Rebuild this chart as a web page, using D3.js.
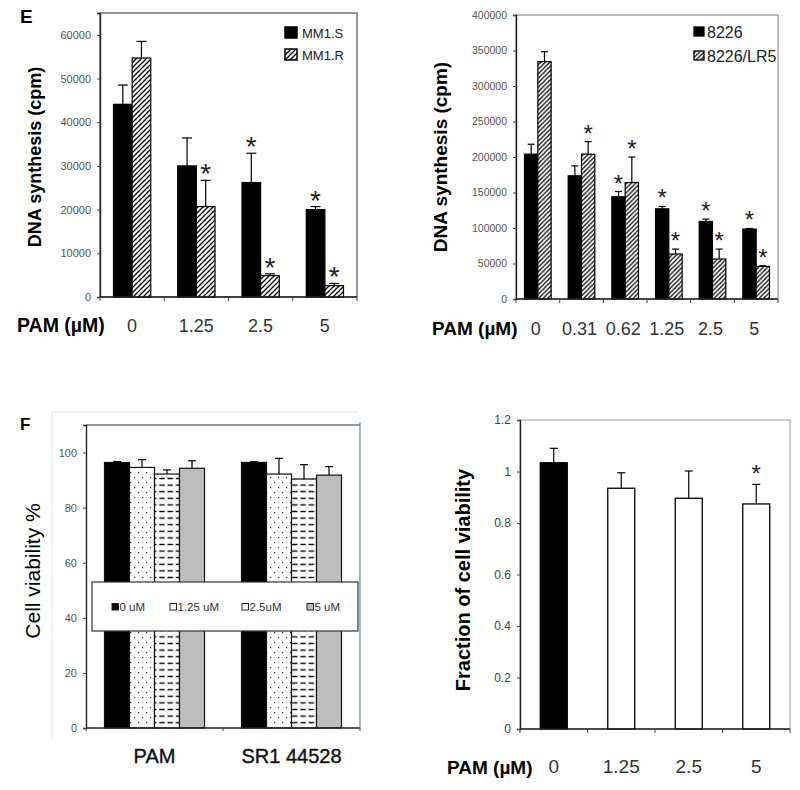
<!DOCTYPE html>
<html><head><meta charset="utf-8">
<script src="https://cdn.jsdelivr.net/npm/d3@7"></script>
<style>body{margin:0;background:#fff}</style>
</head><body>
<script>
// ---------- DATA ----------
// Panel E (left)
const catsE1 = ["0", "1.25", "2.5", "5"];
const seriesE1 = ["MM1.S", "MM1.R"];
const mm1sVals = [44100, 30000, 26200, 20000];
const mm1sSD   = [4400, 6400, 6700, 700];
const mm1sStar = [false, false, true, true];
const mm1rVals = [54700, 20700, 4900, 2600];
const mm1rSD   = [3800, 6000, 400, 500];
const mm1rStar = [false, true, true, true];
const ticksE1 = [0, 10000, 20000, 30000, 40000, 50000, 60000];

// Panel E (right)
const catsE2 = ["0", "0.31", "0.62", "1.25", "2.5", "5"];
const seriesE2 = ["8226", "8226/LR5"];
const r8226Vals = [204000, 173500, 144000, 127000, 109200, 98500];
const r8226SD   = [14000, 14000, 7400, 3300, 3300, 800];
const r8226Star = [false, false, true, true, true, true];
const lr5Vals = [334300, 204000, 164000, 63300, 56300, 45900];
const lr5SD   = [14000, 17700, 36000, 7000, 14000, 900];
const lr5Star = [false, true, true, true, true, true];
const ticksE2 = [0, 50000, 100000, 150000, 200000, 250000, 300000, 350000, 400000];

// Panel F (left)
const groupsF1 = ["PAM", "SR1 44528"];
const seriesF1 = ["0 uM", "1.25 uM", "2.5uM", "5 uM"];
const pamVals = [96.4, 94.6, 92.2, 94.3];
const pamSD   = [0.3, 2.8, 1.5, 2.7];
const srVals  = [96.4, 92.2, 90.4, 91.8];
const srSD    = [0.3, 5.7, 5.2, 3.1];
const ticksF1 = [0, 20, 40, 60, 80, 100];

// Panel F (right)
const catsF2 = ["0", "1.25", "2.5", "5"];
const fracVals = [1.034, 0.935, 0.896, 0.874];
const fracSD   = [0.056, 0.060, 0.106, 0.076];
const fracStar = [false, false, false, true];
const ticksF2 = [0, 0.2, 0.4, 0.6, 0.8, 1, 1.2];

// ---------- SETUP ----------
const svg = d3.select("body").append("svg").attr("width", 800).attr("height", 790)
  .style("font-family", "Arial, 'Liberation Sans', sans-serif");
const defs = svg.append("defs");

function hatch(id, s, w) {
  const p = defs.append("pattern").attr("id", id).attr("patternUnits", "userSpaceOnUse")
    .attr("width", s).attr("height", s);
  p.append("rect").attr("width", s).attr("height", s).attr("fill", "#fff");
  p.append("path").attr("d", `M${-s/4},${s/4} l${s/2},${-s/2} M0,${s} l${s},${-s} M${s*3/4},${s*5/4} l${s/2},${-s/2}`)
    .attr("stroke", "#000").attr("stroke-width", w);
}
hatch("hatch1", 5, 1.3);
hatch("hatch2", 4.5, 1.2);
{
  const p = defs.append("pattern").attr("id", "dots").attr("patternUnits", "userSpaceOnUse").attr("width", 8).attr("height", 10);
  p.append("rect").attr("width", 8).attr("height", 10).attr("fill", "#fff");
  p.append("rect").attr("x", 2).attr("y", 2).attr("width", 1.2).attr("height", 1.2).attr("fill", "#333");
  p.append("rect").attr("x", 6).attr("y", 7).attr("width", 1.2).attr("height", 1.2).attr("fill", "#333");
  const q = defs.append("pattern").attr("id", "dash").attr("patternUnits", "userSpaceOnUse").attr("width", 8.3).attr("height", 6.6);
  q.append("rect").attr("width", 8.3).attr("height", 6.6).attr("fill", "#fff");
  q.append("line").attr("x1", 1.5).attr("x2", 7).attr("y1", 3.3).attr("y2", 3.3).attr("stroke", "#000").attr("stroke-width", 1.4);
}

function yAxis(g, y, L, ticks, fmt, fs, color) {
  const ax = g.append("g").attr("transform", `translate(${L},0)`)
    .call(d3.axisLeft(y).tickValues(ticks).tickFormat(fmt).tickSize(3).tickPadding(6));
  ax.select(".domain").attr("stroke", "#222").attr("stroke-width", 1.4);
  ax.selectAll(".tick line").attr("stroke", "#444");
  ax.selectAll(".tick text").attr("font-size", fs).attr("fill", color).attr("font-family", "Arial, 'Liberation Sans', sans-serif");
  return ax;
}
function bandTicks(g, x, B, len) {
  const n = x.domain().length;
  const [a, b] = x.range();
  const pts = d3.range(n + 1).map(i => a + (b - a) * i / n);
  g.append("line").attr("x1", a).attr("x2", b).attr("y1", B).attr("y2", B).attr("stroke", "#222").attr("stroke-width", 1.5);
  g.selectAll(null).data(pts).join("line").attr("x1", d => d).attr("x2", d => d)
    .attr("y1", B).attr("y2", B + len).attr("stroke", "#444").attr("stroke-width", 1);
}
function errBars(g, data, y, capW, starSize, starOff) {
  g.selectAll(null).data(data).join("line")
    .attr("x1", d => d.cx).attr("x2", d => d.cx).attr("y1", d => y(d.v)).attr("y2", d => y(d.v + d.e))
    .attr("stroke", "#000").attr("stroke-width", 1.2);
  g.selectAll(null).data(data).join("line")
    .attr("x1", d => d.cx - capW / 2).attr("x2", d => d.cx + capW / 2).attr("y1", d => y(d.v + d.e)).attr("y2", d => y(d.v + d.e))
    .attr("stroke", "#000").attr("stroke-width", 1.2);
  g.selectAll(null).data(data.filter(d => d.star)).join("text")
    .attr("x", d => d.cx).attr("y", d => y(d.v + d.e) + starOff).attr("text-anchor", "middle")
    .attr("font-size", starSize).attr("fill", "#222").text("*");
}
function rotLabel(text, cx, cy, fs, weight) {
  svg.append("text").attr("transform", `translate(${cx},${cy}) rotate(-90)`).attr("text-anchor", "middle")
    .attr("dominant-baseline", "central").attr("font-size", fs).attr("font-weight", weight).attr("fill", "#000").text(text);
}

// ---------- PANEL E LEFT ----------
(function () {
  const L = 100, R = 357, T = 13, B = 297;
  const x = d3.scaleBand().domain(catsE1).range([L, R]).paddingInner(0.42).paddingOuter(0.21);
  const xs = d3.scaleBand().domain(seriesE1).range([0, x.bandwidth()]);
  const y = d3.scaleLinear().domain([0, 65000]).range([B, T]);
  const g = svg.append("g");
  g.append("rect").attr("x", L).attr("y", T).attr("width", R - L).attr("height", B - T)
    .attr("fill", "none").attr("stroke", "#333").attr("stroke-width", 1);
  const vals = [mm1sVals, mm1rVals], sds = [mm1sSD, mm1rSD], stars = [mm1sStar, mm1rStar];
  const fills = ["#000", "url(#hatch1)"];
  const data = seriesE1.flatMap((s, si) => catsE1.map((c, ci) => ({
    s, c, v: vals[si][ci], e: sds[si][ci], star: stars[si][ci], fill: fills[si],
    x0: x(c) + xs(s), cx: x(c) + xs(s) + xs.bandwidth() / 2 })));
  g.selectAll(null).data(data).join("rect")
    .attr("x", d => d.x0).attr("width", xs.bandwidth()).attr("y", d => y(d.v)).attr("height", d => B - y(d.v))
    .attr("fill", d => d.fill).attr("stroke", "#000").attr("stroke-width", 1.2);
  errBars(g, data, y, 10, 28, 3);
  yAxis(g, y, L, ticksE1, d3.format("d"), 11, "#555");
  bandTicks(g, x, B, 4);
  // legend
  const lg = g.append("g");
  seriesE1.forEach((s, i) => {
    lg.append("rect").attr("x", 285).attr("y", 27 + i * 22).attr("width", 12).attr("height", 11)
      .attr("fill", fills[i]).attr("stroke", "#000").attr("stroke-width", 1.5);
    lg.append("text").attr("x", 302).attr("y", 38 + i * 22).attr("font-size", 13).attr("fill", "#222").text(s);
  });
  svg.append("text").attr("x", 20).attr("y", 23).attr("font-size", 19).attr("font-weight", "bold").text("E");
  rotLabel("DNA synthesis (cpm)", 35, 157, 18, "bold");
  svg.append("text").attr("x", 17).attr("y", 332).attr("font-size", 19.5).attr("font-weight", "bold").text("PAM (µM)");
  g.selectAll(null).data(catsE1).join("text").attr("x", d => x(d) + x.bandwidth() / 2).attr("y", 332)
    .attr("text-anchor", "middle").attr("font-size", 18).attr("fill", "#333").text(d => d);
})();

// ---------- PANEL E RIGHT ----------
(function () {
  const L = 516, R = 778, T = 15, B = 299;
  const x = d3.scaleBand().domain(catsE2).range([L, R]).paddingInner(0.39).paddingOuter(0.195);
  const xs = d3.scaleBand().domain(seriesE2).range([0, x.bandwidth()]);
  const y = d3.scaleLinear().domain([0, 400000]).range([B, T]);
  const g = svg.append("g");
  g.append("rect").attr("x", L).attr("y", T).attr("width", R - L).attr("height", B - T)
    .attr("fill", "none").attr("stroke", "#777").attr("stroke-width", 1);
  const vals = [r8226Vals, lr5Vals], sds = [r8226SD, lr5SD], stars = [r8226Star, lr5Star];
  const fills = ["#000", "url(#hatch2)"];
  const data = seriesE2.flatMap((s, si) => catsE2.map((c, ci) => ({
    s, c, v: vals[si][ci], e: sds[si][ci], star: stars[si][ci], fill: fills[si],
    x0: x(c) + xs(s), cx: x(c) + xs(s) + xs.bandwidth() / 2 })));
  g.selectAll(null).data(data).join("rect")
    .attr("x", d => d.x0).attr("width", xs.bandwidth()).attr("y", d => y(d.v)).attr("height", d => B - y(d.v))
    .attr("fill", d => d.fill).attr("stroke", "#000").attr("stroke-width", 1.2);
  errBars(g, data, y, 7, 24, 0);
  yAxis(g, y, L, ticksE2, d3.format("d"), 10.5, "#555");
  bandTicks(g, x, B, 4);
  const lg = g.append("g");
  seriesE2.forEach((s, i) => {
    lg.append("rect").attr("x", 694).attr("y", 27 + i * 24).attr("width", 10).attr("height", 9)
      .attr("fill", fills[i]).attr("stroke", "#000").attr("stroke-width", 1.3);
    lg.append("text").attr("x", 707).attr("y", 37.5 + i * 24).attr("font-size", 16).attr("fill", "#222").text(s);
  });
  rotLabel("DNA synthesis (cpm)", 440, 157, 19, "bold");
  svg.append("text").attr("x", 432).attr("y", 335).attr("font-size", 19).attr("font-weight", "bold").text("PAM (µM)");
  g.selectAll(null).data(catsE2).join("text").attr("x", d => x(d) + x.bandwidth() / 2 - 2).attr("y", 335)
    .attr("text-anchor", "middle").attr("font-size", 18).attr("fill", "#333").text(d => d);
})();

// ---------- PANEL F LEFT ----------
(function () {
  const L = 86, R = 360, T = 425, B = 728;
  const x = d3.scaleBand().domain(groupsF1).range([L, R]).paddingInner(0.27).paddingOuter(0.135);
  const xs = d3.scaleBand().domain(seriesF1).range([0, x.bandwidth()]);
  const y = d3.scaleLinear().domain([0, 110]).range([B, T]);
  const g = svg.append("g");
  // outer faint frame
  g.append("path").attr("d", `M52,740 V412 H358`).attr("fill", "none").attr("stroke", "#e2e2e2").attr("stroke-width", 1);
  g.append("line").attr("x1", L).attr("x2", R).attr("y1", T).attr("y2", T).attr("stroke", "#333").attr("stroke-width", 1.2);
  g.append("line").attr("x1", R).attr("x2", R).attr("y1", T - 3).attr("y2", B).attr("stroke", "#6f8db3").attr("stroke-width", 1.3);
  const vals = [pamVals, srVals], sds = [pamSD, srSD];
  const fills = ["#000", "url(#dots)", "url(#dash)", "#bdbdbd"];
  const data = groupsF1.flatMap((c, gi) => seriesF1.map((s, si) => ({
    s, c, v: vals[gi][si], e: sds[gi][si], star: false, fill: fills[si],
    x0: x(c) + xs(s), cx: x(c) + xs(s) + xs.bandwidth() / 2 })));
  g.selectAll(null).data(data).join("rect")
    .attr("x", d => d.x0).attr("width", xs.bandwidth()).attr("y", d => y(d.v)).attr("height", d => B - y(d.v))
    .attr("fill", d => d.fill).attr("stroke", "#111").attr("stroke-width", 1.2);
  errBars(g, data, y, 8, 20, 0);
  yAxis(g, y, L, ticksF1, d3.format("d"), 11, "#555");
  bandTicks(g, x, B, 3);
  // legend
  const lx = [112, 170, 242, 307];
  const lfill = ["#000", "#fff", "#fff", "#bdbdbd"];
  g.append("rect").attr("x", 92).attr("y", 582).attr("width", 266).attr("height", 49)
    .attr("fill", "#fff").attr("stroke", "#333").attr("stroke-width", 1.2);
  seriesF1.forEach((s, i) => {
    g.append("rect").attr("x", lx[i]).attr("y", 603.5).attr("width", 6.5).attr("height", 6.5)
      .attr("fill", lfill[i]).attr("stroke", "#222").attr("stroke-width", 1);
    g.append("text").attr("x", lx[i] + 7.5).attr("y", 611).attr("font-size", 11.5).attr("fill", "#333").text(s);
  });
  svg.append("text").attr("x", 20).attr("y", 430).attr("font-size", 17).attr("font-weight", "bold").text("F");
  rotLabel("Cell viability %", 32, 571, 21, "normal");
  g.selectAll(null).data(groupsF1).join("text").attr("x", d => x(d) + x.bandwidth() / 2).attr("y", 763)
    .attr("text-anchor", "middle").attr("font-size", 20).attr("fill", "#111").attr("stroke", "#111").attr("stroke-width", 0.4).text(d => d);
})();

// ---------- PANEL F RIGHT ----------
(function () {
  const L = 520, R = 790, T = 420, B = 729;
  const x = d3.scaleBand().domain(catsF2).range([L, R]).paddingInner(0.6).paddingOuter(0.3);
  const y = d3.scaleLinear().domain([0, 1.2]).range([B, T]);
  const g = svg.append("g");
  g.append("rect").attr("x", L).attr("y", T).attr("width", R - L).attr("height", B - T)
    .attr("fill", "none").attr("stroke", "#999").attr("stroke-width", 1);
  const data = catsF2.map((c, i) => ({ c, v: fracVals[i], e: fracSD[i], star: fracStar[i],
    fill: i === 0 ? "#000" : "#fff", x0: x(c), cx: x(c) + x.bandwidth() / 2 }));
  g.selectAll(null).data(data).join("rect")
    .attr("x", d => d.x0).attr("width", x.bandwidth()).attr("y", d => y(d.v)).attr("height", d => B - y(d.v))
    .attr("fill", d => d.fill).attr("stroke", "#000").attr("stroke-width", 1.3);
  errBars(g, data, y, 8, 24, -2);
  yAxis(g, y, L, ticksF2, d => d3.format("")(+d.toFixed(1)), 12, "#444");
  bandTicks(g, x, B, 4);
  rotLabel("Fraction of cell viability", 463, 580, 20, "bold");
  svg.append("text").attr("x", 447).attr("y", 774).attr("font-size", 19).attr("font-weight", "bold").text("PAM (µM)");
  g.selectAll(null).data(catsF2).join("text").attr("x", d => x(d) + x.bandwidth() / 2).attr("y", 773)
    .attr("text-anchor", "middle").attr("font-size", 19).attr("fill", "#333").text(d => d);
})();
</script>
</body></html>
